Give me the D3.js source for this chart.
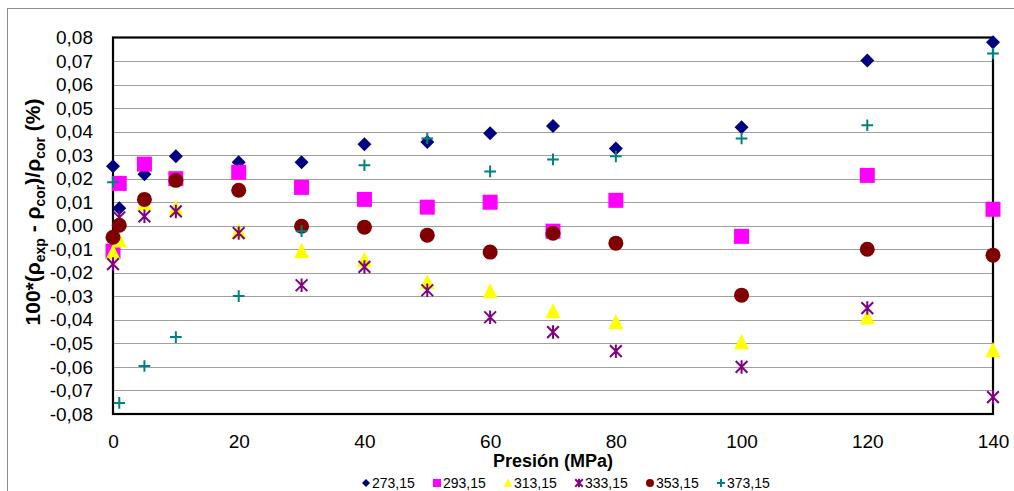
<!DOCTYPE html>
<html>
<head>
<meta charset="utf-8">
<script src="https://cdn.jsdelivr.net/npm/d3@7/dist/d3.min.js"></script>
<style>
  body { margin: 0; background: #fff; }
  svg { display: block; font-family: "Liberation Sans", Arial, sans-serif; }
</style>
</head>
<body>
<svg id="chart" width="1014" height="491"></svg>
<script>
// presiones (MPa)
const pressures = [0, 1, 5, 10, 20, 30, 40, 50, 60, 70, 80, 100, 120, 140];

// desviaciones por isoterma (K)
const s273 = [0.0253, 0.0074, 0.0219, 0.0295, 0.0270, 0.0270, 0.0346, 0.0356, 0.0393, 0.0424, 0.0328, 0.0419, 0.0702, 0.0780];
const s293 = [-0.0108, 0.0180, 0.0262, 0.0200, 0.0227, 0.0163, 0.0112, 0.0079, 0.0100, -0.0023, 0.0108, -0.0045, 0.0214, 0.0070];
const s313 = [-0.0113, -0.0062, 0.0095, 0.0074, -0.0023, -0.0108, -0.0146, -0.0240, -0.0278, -0.0363, -0.0410, -0.0495, -0.0389, -0.0529];
const s333 = [-0.0163, 0.0035, 0.0040, 0.0061, -0.0031, -0.0253, -0.0175, -0.0274, -0.0389, -0.0452, -0.0533, -0.0600, -0.0350, -0.0728];
const s353 = [-0.0049, 0.0002, 0.0112, 0.0193, 0.0151, -0.0002, -0.0006, -0.0040, -0.0112, -0.0032, -0.0074, -0.0295, -0.0100, -0.0125];
const s373 = [0.0185, -0.0753, -0.0596, -0.0473, -0.0299, -0.0023, 0.0257, 0.0371, 0.0231, 0.0282, 0.0295, 0.0371, 0.0427, 0.0732];

const seriesNames = ["273,15", "293,15", "313,15", "333,15", "353,15", "373,15"];
const seriesValues = [s273, s293, s313, s333, s353, s373];
const seriesColors = ["#000080", "#ff00ff", "#ffff00", "#800080", "#800000", "#008080"];
const seriesShapes = ["diamond", "square", "triangle", "star", "circle", "plus"];

const xTicks = [0, 20, 40, 60, 80, 100, 120, 140];
const yTicks = d3.range(-8, 9).map(d => d / 100);

const svg = d3.select("#chart");

const locale = d3.formatLocale({ decimal: ",", thousands: ".", grouping: [3], currency: ["", ""], minus: "-" });
const fmt = locale.format(".2f");

const x = d3.scaleLinear().domain([0, 140]).range([113, 993]);
const y = d3.scaleLinear().domain([-0.08, 0.08]).range([414, 37.5]);

// marco exterior
svg.append("rect")
  .attr("x", 7.5).attr("y", 8.5)
  .attr("width", 1020).attr("height", 500)
  .attr("fill", "none").attr("stroke", "#8c8c8c").attr("stroke-width", 1);

// lineas de division
svg.append("g")
  .selectAll("line")
  .data(yTicks.slice(1, -1))
  .join("line")
  .attr("x1", x(0)).attr("x2", x(140))
  .attr("y1", d => Math.round(y(d)) + 0.5).attr("y2", d => Math.round(y(d)) + 0.5)
  .attr("stroke", "#a0a0a0").attr("stroke-width", 1);

// ejes
const yAxis = svg.append("g")
  .attr("transform", `translate(${x(0)},0)`)
  .call(d3.axisLeft(y).tickValues(yTicks).tickFormat(fmt).tickSize(0).tickPadding(20));
yAxis.select(".domain").remove();
yAxis.selectAll("text").attr("font-size", 19).attr("fill", "#000")
  .attr("font-family", "Liberation Sans, Arial, sans-serif");

const xAxis = svg.append("g")
  .attr("transform", `translate(0,${y(-0.08)})`)
  .call(d3.axisBottom(x).tickValues(xTicks).tickFormat(d3.format("d")).tickSize(0).tickPadding(21));
xAxis.select(".domain").remove();
xAxis.selectAll("text").attr("font-size", 19).attr("fill", "#000")
  .attr("font-family", "Liberation Sans, Arial, sans-serif");

// area de trazado
svg.append("rect")
  .attr("x", x(0)).attr("y", y(0.08))
  .attr("width", x(140) - x(0)).attr("height", y(-0.08) - y(0.08))
  .attr("fill", "none").attr("stroke", "#000").attr("stroke-width", 2.2);

// marcadores
function drawMarker(g, shape, color, s) {
  if (shape === "diamond") {
    g.append("path").attr("d", d3.symbol(d3.symbolSquare, s * s * 0.5)())
      .attr("transform", "rotate(45)").attr("fill", color);
  } else if (shape === "square") {
    g.append("rect").attr("x", -s / 2).attr("y", -s / 2).attr("width", s).attr("height", s).attr("fill", color);
  } else if (shape === "triangle") {
    const h = s * 0.95;
    g.append("path").attr("d", `M0,${-h / 2 - 1}L${s / 2},${h / 2}L${-s / 2},${h / 2}Z`).attr("fill", color);
  } else if (shape === "circle") {
    g.append("circle").attr("r", s / 2).attr("fill", color);
  } else if (shape === "star") {
    const r = s * 0.42;
    const p = d3.path();
    p.moveTo(-r, -r); p.lineTo(r, r);
    p.moveTo(r, -r); p.lineTo(-r, r);
    p.moveTo(0, -r * 1.15); p.lineTo(0, r * 1.15);
    g.append("path").attr("d", p.toString()).attr("stroke", color).attr("stroke-width", 2).attr("fill", "none");
  } else if (shape === "plus") {
    const r = s * 0.45;
    const p = d3.path();
    p.moveTo(-r, 0); p.lineTo(r, 0);
    p.moveTo(0, -r); p.lineTo(0, r);
    g.append("path").attr("d", p.toString()).attr("stroke", color).attr("stroke-width", 2).attr("fill", "none");
  }
}

const sizes = { diamond: 14, square: 15, triangle: 15, circle: 15, star: 14, plus: 13 };

seriesValues.forEach((vals, i) => {
  const g = svg.append("g");
  vals.forEach((v, j) => {
    const m = g.append("g").attr("transform", `translate(${x(pressures[j])},${y(v)})`);
    drawMarker(m, seriesShapes[i], seriesColors[i], sizes[seriesShapes[i]]);
  });
});

// titulos
svg.append("text")
  .attr("x", (x(0) + x(140)) / 2).attr("y", 467)
  .attr("text-anchor", "middle").attr("font-size", 18).attr("font-weight", "bold")
  .text("Presión (MPa)");

const yt = svg.append("text")
  .attr("transform", "translate(40,212) rotate(-90)")
  .attr("text-anchor", "middle").attr("font-size", 21).attr("font-weight", "bold");
yt.append("tspan").text("100*(ρ");
yt.append("tspan").attr("font-size", 14).attr("dy", 5).text("exp");
yt.append("tspan").attr("dy", -5).text(" - ρ");
yt.append("tspan").attr("font-size", 14).attr("dy", 5).text("cor");
yt.append("tspan").attr("dy", -5).text(")/ρ");
yt.append("tspan").attr("font-size", 14).attr("dy", 5).text("cor");
yt.append("tspan").attr("dy", -5).text(" (%)");

// leyenda
const legend = svg.append("g");
seriesNames.forEach((name, i) => {
  const lx = 366 + i * 71;
  const m = legend.append("g").attr("transform", `translate(${lx},483)`);
  drawMarker(m, seriesShapes[i], seriesColors[i], seriesShapes[i] === "plus" || seriesShapes[i] === "star" ? 9 : 8);
  legend.append("text").attr("x", lx + 6).attr("y", 488)
    .attr("font-size", 14).attr("fill", "#000").text(name);
});
</script>
</body>
</html>
